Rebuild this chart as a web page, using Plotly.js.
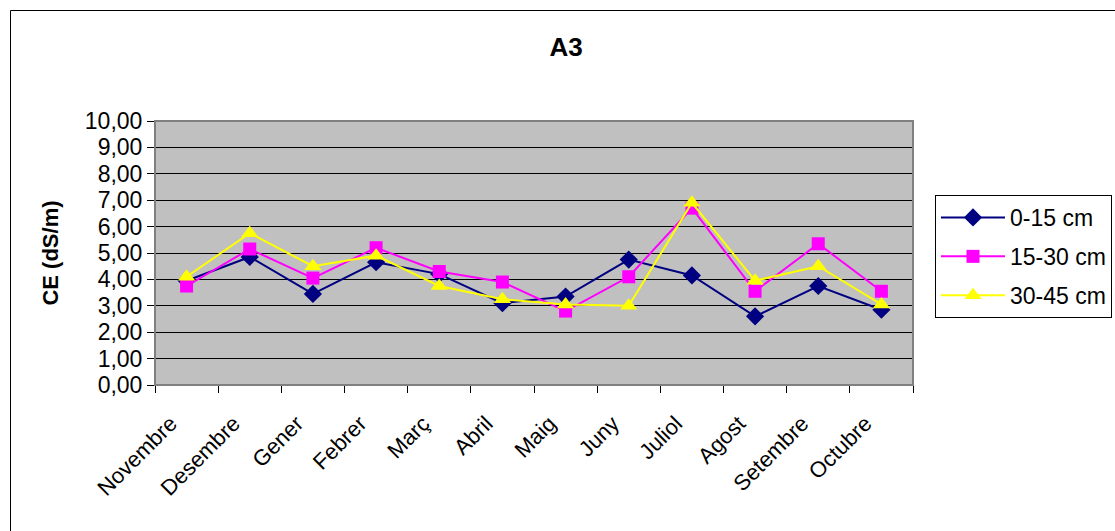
<!DOCTYPE html>
<html><head><meta charset="utf-8">
<script src="https://cdn.plot.ly/plotly-3.0.1.min.js"></script>
<style>html,body{margin:0;padding:0;background:#fff}#c{width:1115px;height:531px}</style>
</head><body><div id="c"></div>
<script>
const months = ["Novembre","Desembre","Gener","Febrer","Març","Abril","Maig","Juny","Juliol","Agost","Setembre","Octubre"];
const s0_15 = [3.95,4.85,3.45,4.65,4.2,3.1,3.35,4.75,4.15,2.6,3.75,2.85];
const s15_30 = [3.75,5.15,4.05,5.2,4.3,3.9,2.8,4.1,6.7,3.55,5.35,3.55];
const s30_45 = [4.1,5.75,4.5,4.9,3.75,3.25,3.05,3.0,6.9,3.95,4.5,3.05];
const names = ["0-15 cm","15-30 cm","30-45 cm"];

const W=1115,H=531,L=155,R=202,T=121,B=146;
const pw=W-L-R, ph=H-T-B;
const traces = [
  {x:months,y:s0_15,name:names[0],legendgroup:"a",mode:"lines+markers",line:{color:"#000080",width:2},marker:{symbol:"diamond",size:14,color:"#000080"}},
  {x:months,y:s15_30,name:names[1],legendgroup:"b",mode:"lines+markers",line:{color:"#FF00FF",width:2},marker:{symbol:"square",size:13,color:"#FF00FF"}},
  {x:months,y:s30_45,name:names[2],legendgroup:"c",mode:"lines+markers",line:{color:"#FFFF00",width:2},marker:{symbol:"triangle-up",size:15,color:"#FFFF00"}}
];
const layout = {
  width:W,height:H,
  margin:{l:L,r:R,t:T,b:B,pad:0,autoexpand:false},
  paper_bgcolor:"#fff",plot_bgcolor:"#C0C0C0",
  separators:",.",
  font:{family:"Liberation Sans, Arial, sans-serif",size:21,color:"#000"},
  title:{text:"<b>A3</b>",x:566/W,xanchor:"center",y:1-47/H,yanchor:"middle",font:{size:26}},
  xaxis:{type:"category",range:[-0.5,11.5],tickson:"boundaries",ticks:"outside",ticklen:7,tickcolor:"#000",tickangle:-45,
    ticklabelstandoff:16,ticklabelshift:-16,automargin:false,
    showline:true,linecolor:"#000",linewidth:1,showgrid:false,zeroline:false,tickfont:{size:22}},
  yaxis:{range:[0,10],dtick:1,tickformat:".2f",ticks:"outside",ticklen:7,tickcolor:"#000",automargin:false,
    showline:true,linecolor:"#000",linewidth:1,showgrid:true,gridcolor:"#000",gridwidth:1,zeroline:false,
    tickfont:{size:23},
    title:{text:"<b>CE (dS/m)</b>",font:{size:22},standoff:20}},
  showlegend:true,
  legend:{x:(935-L)/pw,xanchor:"left",y:(H-B-195)/ph,yanchor:"top",bgcolor:"#fff",bordercolor:"#000",borderwidth:1,
    font:{size:23},tracegroupgap:6,traceorder:"grouped",itemwidth:64,entrywidth:200},
  shapes:[
    {type:"rect",xref:"paper",yref:"paper",x0:0,x1:1,y0:0,y1:1,line:{color:"#808080",width:2}},
    {type:"rect",xref:"paper",yref:"paper",x0:-(L-10.5)/pw,x1:1+(R+20)/pw,y0:-(B+20)/ph,y1:1+(T-10.5)/ph,line:{color:"#000",width:1}}
  ]
};
Plotly.newPlot("c",traces,layout,{displayModeBar:false,staticPlot:true});
</script></body></html>
